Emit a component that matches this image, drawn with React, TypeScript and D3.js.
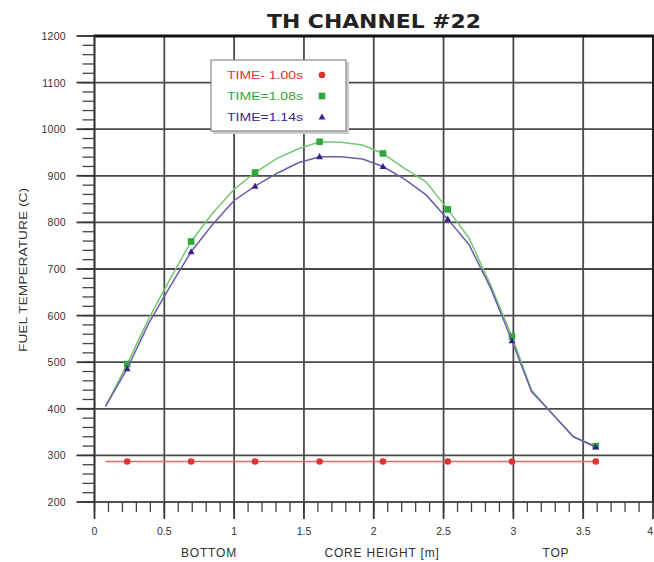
import React from 'react';
import * as d3 from 'd3';

// node positions along core height (m)
const nodeX = [0.079, 0.234, 0.389, 0.544, 0.692, 0.847, 1.0, 1.15, 1.305, 1.46, 1.612, 1.765, 1.92, 2.066, 2.22, 2.375, 2.53, 2.683, 2.836, 2.99, 3.13, 3.28, 3.43, 3.59];
const t100 = [287, 287, 287, 287, 287, 287, 287, 287, 287, 287, 287, 287, 287, 287, 287, 287, 287, 287, 287, 287, 287, 287, 287, 287];
const t108 = [405, 496, 594, 680, 759, 820, 871, 907, 937, 958, 973, 972, 966, 948, 916, 887, 828, 766, 666, 555, 440, 389, 340, 320];
const t114 = [405, 486, 584, 664, 737, 796, 847, 878, 905, 928, 941, 941, 936, 920, 893, 859, 807, 752, 660, 546, 437, 389, 340, 318];
const markerIdx = [1, 4, 7, 10, 13, 16, 19, 23];

const xTicks = [0, 0.5, 1, 1.5, 2, 2.5, 3, 3.5, 4];
const xTickLabels = ['0', '0.5', '1', '1.5', '2', '2.5', '3', '3.5', '4'];
const yTicks = [200, 300, 400, 500, 600, 700, 800, 900, 1000, 1100, 1200];

const series = [
  { name: 'TIME- 1.00s', values: t100, line: '#e46a6a', mark: '#dd3333', shape: 'circle' },
  { name: 'TIME=1.08s', values: t108, line: '#74c874', mark: '#2fa83a', shape: 'square' },
  { name: 'TIME=1.14s', values: t114, line: '#6b5cae', mark: '#3d1f8f', shape: 'triangle' },
];

export default function App() {
  const x = d3.scaleLinear().domain([0, 4]).range([94.5, 653]);
  const y = d3.scaleLinear().domain([200, 1200]).range([502, 36]);

  const line = d3.line<number>()
    .x((_, i) => x(nodeX[i]))
    .y(d => y(d));

  const minorX = d3.range(0, 40).map(i => i / 10);
  const minorY = d3.range(200, 1201, 20);

  const marker = (shape: string, cx: number, cy: number, color: string, key: any) => {
    if (shape === 'circle') return <circle key={key} cx={cx} cy={cy} r={3.3} fill={color} />;
    if (shape === 'square') return <rect key={key} x={cx - 3.3} y={cy - 3.3} width={6.6} height={6.6} fill={color} />;
    return <path key={key} d={`M${cx},${cy - 3.6}L${cx + 3.4},${cy + 2.6}L${cx - 3.4},${cy + 2.6}Z`} fill={color} />;
  };

  return (
    <svg width={654} height={562} style={{ position: 'absolute', left: 0, top: 0, background: '#fff' }}
      fontFamily="'Liberation Sans', Arial, sans-serif">
      <rect width={654} height={562} fill="#fff" />
      {/* title */}
      <text x={374} y={28} textAnchor="middle" fontSize={20} fontWeight="bold" fontFamily="'DejaVu Sans', sans-serif"
        fill="#222" textLength={214} lengthAdjust="spacingAndGlyphs">TH CHANNEL #22</text>

      {/* grid */}
      {yTicks.map(t => (
        <line key={'gy' + t} x1={x(0)} x2={x(4)} y1={y(t)} y2={y(t)} stroke="#4a4a4a" strokeWidth={1.8} />
      ))}
      {xTicks.map(t => (
        <line key={'gx' + t} x1={x(t)} x2={x(t)} y1={y(1200)} y2={y(200)} stroke="#4a4a4a" strokeWidth={1.8} />
      ))}
      <line x1={x(0) - 1} x2={x(4) + 1} y1={y(1200)} y2={y(1200)} stroke="#111" strokeWidth={2.8} />
      <line x1={x(4)} x2={x(4)} y1={y(1200)} y2={y(200)} stroke="#222" strokeWidth={2} />

      {/* left axis */}
      <line x1={x(0)} x2={x(0)} y1={y(1200)} y2={y(200)} stroke="#333" strokeWidth={1.6} />
      {minorY.map(t => (
        <line key={'my' + t} x1={x(0) - 12} x2={x(0)} y1={y(t)} y2={y(t)} stroke="#444" strokeWidth={1.3} />
      ))}
      {yTicks.map(t => (
        <g key={'ly' + t}>
          <line x1={x(0) - 18} x2={x(0)} y1={y(t)} y2={y(t)} stroke="#333" strokeWidth={1.8} />
          <text x={66} y={y(t) + 4} textAnchor="end" fontSize={10.5} fill="#333" letterSpacing={0.3}>{t}</text>
        </g>
      ))}

      {/* bottom axis */}
      <line x1={x(0)} x2={x(4)} y1={y(200)} y2={y(200)} stroke="#555" strokeWidth={1.4} />
      {minorX.map(t => (
        <line key={'mx' + t} x1={x(t)} x2={x(t)} y1={y(200)} y2={y(200) + 10} stroke="#444" strokeWidth={1.3} />
      ))}
      {xTicks.map((t, i) => (
        <g key={'lx' + t}>
          <line x1={x(t)} x2={x(t)} y1={y(200)} y2={y(200) + 17} stroke="#333" strokeWidth={1.8} />
          <text x={i === xTicks.length - 1 ? 653 : x(t)} y={535} textAnchor={i === xTicks.length - 1 ? 'end' : 'middle'}
            fontSize={10.5} fill="#333">{xTickLabels[i]}</text>
        </g>
      ))}
      <text x={209} y={557} textAnchor="middle" fontSize={12} fill="#333" letterSpacing={0.8}>BOTTOM</text>
      <text x={382} y={557} textAnchor="middle" fontSize={12} fill="#333" letterSpacing={0.8}>CORE HEIGHT [m]</text>
      <text x={556} y={557} textAnchor="middle" fontSize={12} fill="#333" letterSpacing={0.8}>TOP</text>

      <text transform="translate(27,270) rotate(-90)" textAnchor="middle" fontSize={11} fill="#333"
        textLength={164} lengthAdjust="spacingAndGlyphs">FUEL TEMPERATURE (C)</text>

      {/* series */}
      {series.map(s => (
        <g key={s.name}>
          <path d={line(s.values) || ''} fill="none" stroke={s.line} strokeWidth={1.5} />
          {markerIdx.map(i => marker(s.shape, x(nodeX[i]), y(s.values[i]), s.mark, s.name + i))}
        </g>
      ))}

      {/* legend */}
      <rect x={213} y={62} width={136} height={72} fill="#ccc" />
      <rect x={211} y={60} width={135} height={71} fill="#fff" stroke="#888" strokeWidth={1.2} />
      {series.map((s, i) => (
        <g key={'lg' + s.name}>
          <text x={227} y={79 + i * 21} fontSize={10} fill={s.mark} textLength={76} lengthAdjust="spacingAndGlyphs">{s.name}</text>
          {marker(s.shape, 322, 75 + i * 21, s.mark, 'lm' + i)}
        </g>
      ))}
    </svg>
  );
}
